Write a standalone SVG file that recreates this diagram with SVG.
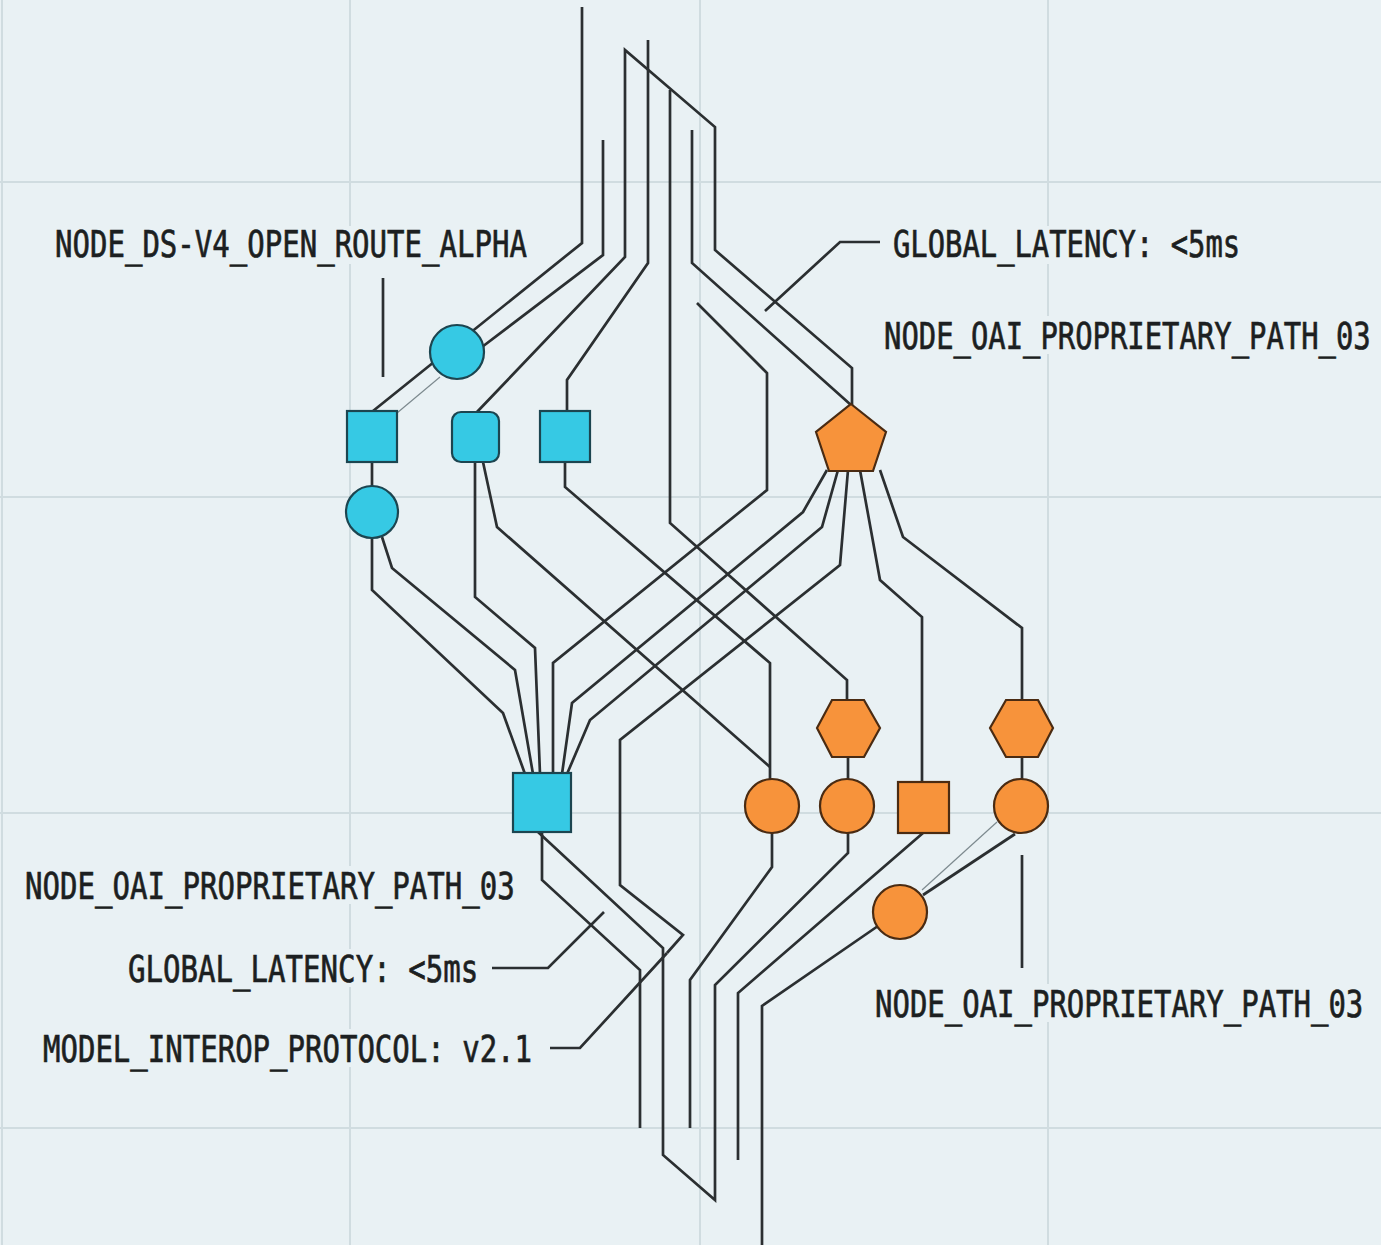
<svg xmlns="http://www.w3.org/2000/svg" width="1381" height="1245" viewBox="0 0 1381 1245">
<style>
.grid{stroke:#d0dce0;stroke-width:2;fill:none}
.ln{stroke:#2b2f31;stroke-width:2.7;fill:none;stroke-linejoin:miter;stroke-linecap:butt}
.thin{stroke:#7d8a8f;stroke-width:1.2;fill:none}
.blue{fill:#36c9e4;stroke:#1c4550;stroke-width:2.2}
.orange{fill:#f7933b;stroke:#4a2b12;stroke-width:2.2}
.lbl{font-family:"DejaVu Sans Mono","Liberation Mono",monospace;font-size:37px;fill:#1c1f21;stroke:#1c1f21;stroke-width:0.7}
.lblbg{fill:#e9f1f4}
</style>
<rect x="0" y="0" width="1381" height="1245" fill="#e9f1f4"/>
<g id="grid">
<line class="grid" x1="2" y1="0" x2="2" y2="1245"/>
<line class="grid" x1="350" y1="0" x2="350" y2="1245"/>
<line class="grid" x1="700" y1="0" x2="700" y2="1245"/>
<line class="grid" x1="1048" y1="0" x2="1048" y2="1245"/>
<line class="grid" x1="0" y1="182" x2="1381" y2="182"/>
<line class="grid" x1="0" y1="497" x2="1381" y2="497"/>
<line class="grid" x1="0" y1="813" x2="1381" y2="813"/>
<line class="grid" x1="0" y1="1128" x2="1381" y2="1128"/>
</g>
<g id="connectors">
<polyline class="ln" points="582,7 582,243 373,411"/>
<polyline class="ln" points="603,140 603,255 482,347"/>
<line class="thin" x1="440" y1="377" x2="397" y2="413"/>
<polyline class="ln" points="477,412 625,257 625,50 715,127 715,250 852,368 852,405"/>
<polyline class="ln" points="648,40 648,263 567,380 567,412"/>
<polyline class="ln" points="692,130 692,263 851,405"/>
<polyline class="ln" points="670,90 670,523 847,680 847,702"/>
<polyline class="ln" points="697,303 767,373 767,490 553,663 553,774"/>
<line class="ln" x1="372" y1="462" x2="372" y2="486"/>
<polyline class="ln" points="372,538 372,590 503,713 525,774"/>
<polyline class="ln" points="382,537 392,568 515,670 533,774"/>
<polyline class="ln" points="475,462 475,597 535,648 540,774"/>
<polyline class="ln" points="483,462 497,527 770,767"/>
<polyline class="ln" points="565,462 565,487 770,663 770,781"/>
<polyline class="ln" points="827,470 803,512 572,703 562,774"/>
<polyline class="ln" points="838,470 822,527 590,720 567,774"/>
<polyline class="ln" points="848,470 840,565 620,740 620,885 683,935 667,953"/>
<polyline class="ln" points="860,470 880,580 922,617 922,782"/>
<polyline class="ln" points="880,470 903,537 1022,628 1022,701"/>
<line class="ln" x1="848" y1="757" x2="848" y2="780"/>
<line class="ln" x1="1022" y1="757" x2="1022" y2="780"/>
<line class="ln" x1="1015" y1="834" x2="923" y2="895"/>
<line class="thin" x1="997" y1="822" x2="922" y2="890"/>
<polyline class="ln" points="542,832 542,880 640,970 640,1128"/>
<polyline class="ln" points="538,832 663,948 663,1155 715,1200 715,985 848,853 848,833"/>
<polyline class="ln" points="772,833 772,867 690,980 690,1128"/>
<polyline class="ln" points="923,833 738,993 738,1160"/>
<polyline class="ln" points="878,926 762,1006 762,1245"/>
<polyline class="ln" points="880,242 840,242 765,311"/>
<line class="ln" x1="383" y1="278" x2="383" y2="377"/>
<line class="ln" x1="1022" y1="855" x2="1022" y2="968"/>
<polyline class="ln" points="492,968 548,968 604,912"/>
<polyline class="ln" points="550,1048 580,1048 667,953"/>
</g>
<g id="node-ds-circle-a"><circle class="blue" cx="457" cy="352" r="27"/></g>
<g id="node-ds-square-1"><rect class="blue" x="347" y="411" width="50" height="51"/></g>
<g id="node-ds-rounded-2"><rect class="blue" x="452" y="412" width="47" height="50" rx="9"/></g>
<g id="node-ds-square-3"><rect class="blue" x="540" y="411" width="50" height="51"/></g>
<g id="node-ds-circle-b"><circle class="blue" cx="372" cy="512" r="26"/></g>
<g id="node-ds-hub"><rect class="blue" x="513" y="773" width="58" height="59"/></g>
<g id="node-oai-pentagon"><polygon class="orange" points="851,404 886,432 873,471 829,471 816,432"/></g>
<g id="node-oai-hex-1"><polygon class="orange" points="817,728 832,700 864,700 880,728 864,757 832,757"/></g>
<g id="node-oai-hex-2"><polygon class="orange" points="990,728 1006,700 1038,700 1053,728 1038,757 1006,757"/></g>
<g id="node-oai-circle-1"><circle class="orange" cx="772" cy="806" r="27"/></g>
<g id="node-oai-circle-2"><circle class="orange" cx="847" cy="806" r="27"/></g>
<g id="node-oai-square"><rect class="orange" x="898" y="782" width="51" height="51"/></g>
<g id="node-oai-circle-4"><circle class="orange" cx="1021" cy="806" r="27"/></g>
<g id="node-oai-circle-5"><circle class="orange" cx="900" cy="912" r="27"/></g>
<g id="labels">
<rect class="lblbg" x="50" y="226" width="482" height="38"/>
<text class="lbl" transform="translate(55,257) scale(0.78,1)" x="0" y="0" textLength="605" lengthAdjust="spacingAndGlyphs">NODE_DS-V4_OPEN_ROUTE_ALPHA</text>
<rect class="lblbg" x="888" y="226" width="357" height="38"/>
<text class="lbl" transform="translate(893,257) scale(0.78,1)" x="0" y="0" textLength="445" lengthAdjust="spacingAndGlyphs">GLOBAL_LATENCY: &lt;5ms</text>
<rect class="lblbg" x="880" y="316" width="496" height="38"/>
<text class="lbl" transform="translate(884,349) scale(0.78,1)" x="0" y="0" textLength="624" lengthAdjust="spacingAndGlyphs">NODE_OAI_PROPRIETARY_PATH_03</text>
<rect class="lblbg" x="20" y="866" width="500" height="38"/>
<text class="lbl" transform="translate(25,899) scale(0.78,1)" x="0" y="0" textLength="628" lengthAdjust="spacingAndGlyphs">NODE_OAI_PROPRIETARY_PATH_03</text>
<rect class="lblbg" x="123" y="949" width="360" height="38"/>
<text class="lbl" transform="translate(128,982) scale(0.78,1)" x="0" y="0" textLength="449" lengthAdjust="spacingAndGlyphs">GLOBAL_LATENCY: &lt;5ms</text>
<rect class="lblbg" x="38" y="1029" width="499" height="38"/>
<text class="lbl" transform="translate(43,1062) scale(0.78,1)" x="0" y="0" textLength="627" lengthAdjust="spacingAndGlyphs">MODEL_INTEROP_PROTOCOL: v2.1</text>
<rect class="lblbg" x="870" y="984" width="498" height="38"/>
<text class="lbl" transform="translate(875,1017) scale(0.78,1)" x="0" y="0" textLength="626" lengthAdjust="spacingAndGlyphs">NODE_OAI_PROPRIETARY_PATH_03</text>
</g>
</svg>
